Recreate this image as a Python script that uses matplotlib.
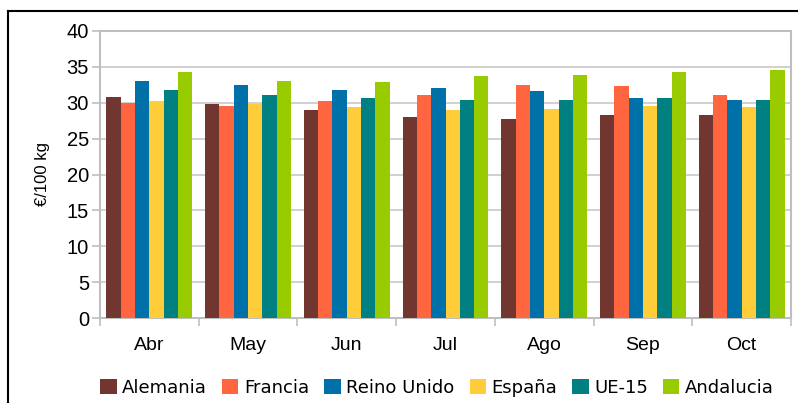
import numpy as np
import matplotlib.pyplot as plt
from matplotlib.lines import Line2D
from matplotlib.patches import Patch

# Datos (€/100 kg)
meses = ["Abr", "May", "Jun", "Jul", "Ago", "Sep", "Oct"]
alemania = [30.8, 29.8, 29.0, 28.0, 27.7, 28.3, 28.3]
francia = [30.0, 29.5, 30.2, 31.1, 32.5, 32.3, 31.1]
reino_unido = [33.0, 32.5, 31.8, 32.1, 31.6, 30.7, 30.4]
espana = [30.2, 29.8, 29.4, 29.0, 29.1, 29.5, 29.4]
ue15 = [31.8, 31.1, 30.7, 30.4, 30.4, 30.7, 30.4]
andalucia = [34.3, 33.0, 32.9, 33.7, 33.9, 34.3, 34.6]

series = [("Alemania", alemania, "#713630"),
          ("Francia", francia, "#FF6640"),
          ("Reino Unido", reino_unido, "#0070A8"),
          ("España", espana, "#FFCC3A"),
          ("UE-15", ue15, "#008080"),
          ("Andalucia", andalucia, "#99CC00")]

plt.rcParams['font.family'] = ['Liberation Sans', 'DejaVu Sans']

fig = plt.figure(figsize=(7.98, 4.03), dpi=100)
ax = fig.add_axes([100 / 798, 1 - 318 / 403, 691 / 798, 287 / 403])

x = np.arange(len(meses))
n = len(series)
group_w = 0.87
bw = group_w / n
for i, (name, vals, col) in enumerate(series):
    ax.bar(x - group_w / 2 + bw * (i + 0.5), vals, bw, color=col, label=name, zorder=3)

ax.set_xlim(-0.5, len(meses) - 0.5)
ax.set_ylim(0, 40)
ax.set_yticks(range(0, 41, 5))
ax.yaxis.grid(True, color="#C8C8C8", linewidth=1.2, zorder=0)
ax.set_xticks(x)
ax.set_xticklabels(meses, fontsize=14)
ax.tick_params(axis='x', length=0, pad=14)
ax.tick_params(axis='y', labelsize=14.5, length=6, color="#BFBFBF", width=1.2, pad=2)
# marcas entre categorías
ax.set_xticks(np.arange(-0.5, len(meses), 1), minor=True)
ax.tick_params(axis='x', which='minor', length=6, color="#BFBFBF", width=1.2)

for s in ax.spines.values():
    s.set_color("#BFBFBF")
    s.set_linewidth(1.5)

ax.set_ylabel("€/100 kg", fontsize=12, labelpad=12)

handles = [Patch(facecolor=c, label=nm) for nm, _, c in series]
fig.legend(handles=handles, loc="center", bbox_to_anchor=(437 / 798, 1 - 388 / 403),
           ncol=6, frameon=False, handlelength=0.9, handleheight=0.9,
           handletextpad=0.3, columnspacing=0.85, prop={'family': 'DejaVu Sans', 'size': 13})

# marco exterior (recortado a derecha y abajo)
fig.add_artist(Line2D([8 / 798, 8 / 798], [0, 1 - 11 / 403], color="black", linewidth=1.5))
fig.add_artist(Line2D([8 / 798, 1], [1 - 11 / 403, 1 - 11 / 403], color="black", linewidth=1.5))

fig.savefig("out.png", dpi=100)
